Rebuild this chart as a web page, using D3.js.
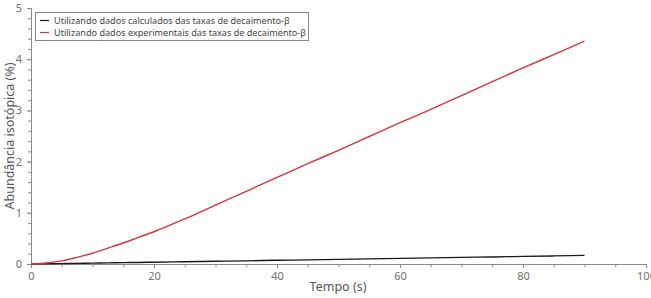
<!DOCTYPE html>
<html><head><meta charset="utf-8">
<script src="https://cdn.jsdelivr.net/npm/d3@7"></script>
<style>body{margin:0;background:#fff;} svg{display:block;font-family:"Noto Sans",sans-serif;}</style>
</head><body><svg id="c" width="651" height="298"></svg>
<script>
const time = [0,2.5,5,7.5,10,12.5,15,17.5,20,25,30,35,40,45,50,55,60,65,70,75,80,85,90];
const calculated = [0,0.004,0.008,0.012,0.017,0.021,0.026,0.030,0.035,0.044,0.053,0.062,0.072,0.081,0.091,0.100,0.110,0.119,0.129,0.138,0.148,0.158,0.168];
const experimental = [0,0.02,0.06,0.13,0.21,0.31,0.41,0.52,0.63,0.88,1.15,1.42,1.69,1.96,2.22,2.49,2.76,3.02,3.29,3.56,3.83,4.09,4.355];
const seriesNames = ["Utilizando dados calculados das taxas de decaimento-β","Utilizando dados experimentais das taxas de decaimento-β"];
const seriesColors = ["#1a1a1a","#d4363b"];
const xTicks = [0,20,40,60,80,100];
const yTicks = [0,1,2,3,4,5];
const xLabel = "Tempo (s)";
const yLabel = "Abundância isotópica (%)";

const svg = d3.select("#c");
const m = {l:31, r:646, t:8, b:264};
const x = d3.scaleLinear().domain([0,100]).range([m.l,m.r]);
const y = d3.scaleLinear().domain([0,5]).range([m.b,m.t]);
const axisColor = "#8a8a8a", textColor = "#707070";

// minor ticks
const xa = svg.append("g").attr("transform",`translate(0,${m.b})`)
  .call(d3.axisBottom(x).tickValues(d3.range(0,101,5)).tickSize(3).tickFormat(""));
const ya = svg.append("g").attr("transform",`translate(${m.l},0)`)
  .call(d3.axisLeft(y).tickValues(d3.range(0,5.01,0.2)).tickSize(3).tickFormat(""));
const xm = svg.append("g").attr("transform",`translate(0,${m.b})`)
  .call(d3.axisBottom(x).tickValues(xTicks).tickSize(4).tickPadding(4).tickFormat(d3.format("d")));
const ym = svg.append("g").attr("transform",`translate(${m.l},0)`)
  .call(d3.axisLeft(y).tickValues(yTicks).tickSize(4).tickPadding(5).tickFormat(d3.format("d")));
[xa,ya,xm,ym].forEach(g=>{
  g.selectAll("path,line").attr("stroke",axisColor).attr("stroke-width",1);
  g.selectAll("text").attr("fill",textColor).style("font-size","11px").style("font-family","Noto Sans");
});

const line = d3.line().x((d,i)=>x(time[i])).y(d=>y(d)).curve(d3.curveMonotoneX);
[calculated, experimental].forEach((s,k)=>{
  svg.append("path").datum(s).attr("d",line).attr("fill","none")
    .attr("stroke",seriesColors[k]).attr("stroke-width",1.4);
});

svg.append("text").attr("x",338).attr("y",291).attr("text-anchor","middle")
  .attr("fill","#555").style("font-size","12.5px").text(xLabel);
svg.append("text").attr("transform","translate(14,136) rotate(-90)").attr("text-anchor","middle")
  .attr("fill","#555").style("font-size","12.5px").text(yLabel);

// legend
const lg = svg.append("g");
lg.append("rect").attr("x",35.5).attr("y",12.5).attr("width",273).attr("height",28)
  .attr("fill","#fff").attr("stroke","#888");
seriesNames.forEach((n,k)=>{
  const yy = 20.5 + k*12;
  lg.append("line").attr("x1",40).attr("x2",49).attr("y1",yy).attr("y2",yy)
    .attr("stroke",seriesColors[k]).attr("stroke-width",1.2);
  lg.append("text").attr("x",54).attr("y",yy+3.5).attr("fill","#444")
    .style("font-size","9.1px").text(n);
});
</script></body></html>
